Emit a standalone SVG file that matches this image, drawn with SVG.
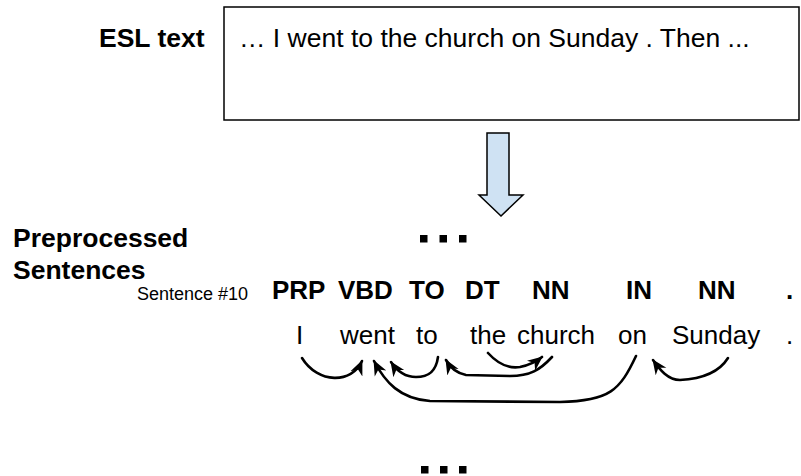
<svg xmlns="http://www.w3.org/2000/svg" width="801" height="476" viewBox="0 0 801 476">
  <style>
    .lbl { font-family: "Liberation Sans", Arial, sans-serif; font-weight: bold; font-size: 26.5px; fill: #000; }
    .txt { font-family: "Liberation Sans", Arial, sans-serif; font-size: 26.5px; fill: #000; }
    .tag { font-family: "Liberation Sans", Arial, sans-serif; font-weight: bold; font-size: 26px; fill: #000; }
    .word { font-family: "Liberation Sans", Arial, sans-serif; font-size: 26px; fill: #000; }
    .small { font-family: "Liberation Sans", Arial, sans-serif; font-size: 18px; fill: #000; }
    .dep { fill: none; stroke: #000; stroke-width: 2.6; stroke-linecap: round; marker-end: url(#head); }
    .dot { fill: #000; }
  </style>
  <defs>
    <!-- barbed arrowhead for dependency arcs -->
    <marker id="head" markerUnits="userSpaceOnUse" markerWidth="16" markerHeight="16" refX="14" refY="8" orient="auto">
      <path d="M0,1.5 L15,8 L0,14.5 L4.5,8 z" fill="#000"/>
    </marker>
  </defs>

  <rect width="801" height="476" fill="#fff"/>

  <!-- input text -->
  <g id="esl-text">
    <text class="lbl" x="99" y="47">ESL text</text>
    <rect x="224" y="7" width="575" height="113" fill="#fff" stroke="#000" stroke-width="1.5"/>
    <text class="txt" x="239" y="47">… I went to the church on Sunday . Then ...</text>
  </g>

  <!-- processing arrow -->
  <g id="down-arrow">
    <path d="M487,133 L509,133 L509,195 L523,195 L501,216 L479,195 L487,195 z" fill="#cfe2f3" stroke="#000" stroke-width="1.5" stroke-linejoin="miter"/>
  </g>

  <g id="dots-top">
    <rect class="dot" x="420" y="235" width="7.5" height="7.5"/>
    <rect class="dot" x="439.5" y="235" width="7.5" height="7.5"/>
    <rect class="dot" x="459" y="235" width="7.5" height="7.5"/>
  </g>

  <g id="preprocessed-label">
    <text class="lbl" x="13" y="247">Preprocessed</text>
    <text class="lbl" x="13" y="279">Sentences</text>
  </g>

  <!-- sentence #10 with POS tags -->
  <g id="sentence-10">
    <text class="small" x="137" y="300">Sentence #10</text>
    <text class="tag" x="272" y="299">PRP</text>
    <text class="tag" x="338" y="299">VBD</text>
    <text class="tag" x="409" y="299">TO</text>
    <text class="tag" x="465" y="299">DT</text>
    <text class="tag" x="532" y="299">NN</text>
    <text class="tag" x="626" y="299">IN</text>
    <text class="tag" x="698" y="299">NN</text>
    <text class="tag" x="786" y="299">.</text>

    <text class="word" x="296" y="344">I</text>
    <text class="word" x="340" y="344">went</text>
    <text class="word" x="416" y="344">to</text>
    <text class="word" x="470" y="344">the</text>
    <text class="word" x="517" y="344">church</text>
    <text class="word" x="618" y="344">on</text>
    <text class="word" x="672" y="344">Sunday</text>
    <text class="word" x="786" y="344">.</text>
  </g>

  <!-- dependency arcs -->
  <g id="dependencies">
    <path class="dep" d="M302,358 C318,384 352,384 362,361"/>
    <path class="dep" d="M438,357 C436,372 428,377 416,377 C404,377 397,371 391,362"/>
    <path class="dep" d="M636,356 C620,390 610,401 560,402 L430,401 C400,399 385,382 374,361"/>
    <path class="dep" d="M552,357 C540,370 530,376 510,376 L466,375 C455,373 450,367 446,360"/>
    <path class="dep" d="M488,353 C498,364 508,369 520,367 C530,365 537,361 542,357"/>
    <path class="dep" d="M728,358 C718,374 700,379 680,380 C668,380 660,370 653,360"/>
  </g>

  <g id="dots-bottom">
    <rect class="dot" x="421" y="466" width="7.5" height="7.5"/>
    <rect class="dot" x="440" y="466" width="7.5" height="7.5"/>
    <rect class="dot" x="459" y="466" width="7.5" height="7.5"/>
  </g>
</svg>
